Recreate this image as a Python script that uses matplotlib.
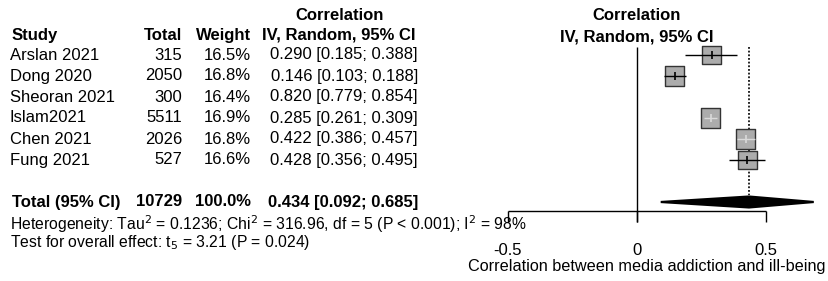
import matplotlib.pyplot as plt
import numpy as np
from matplotlib.transforms import blended_transform_factory

plt.rcParams['font.family'] = ['Liberation Sans', 'DejaVu Sans']

# data
studies = ['Arslan 2021', 'Dong 2020', 'Sheoran 2021', 'Islam2021', 'Chen 2021', 'Fung 2021']
totals = [315, 2050, 300, 5511, 2026, 527]
weights = [16.5, 16.8, 16.4, 16.9, 16.8, 16.6]
est = [0.290, 0.146, 0.820, 0.285, 0.422, 0.428]
lower = [0.185, 0.103, 0.779, 0.261, 0.386, 0.356]
upper = [0.388, 0.188, 0.854, 0.309, 0.457, 0.495]
total_n = 10729
pooled = 0.434
pooled_lo = 0.092
pooled_hi = 0.685
xticks = [-0.5, 0, 0.5]
xticklabels = ['-0.5', '0', '0.5']

W, H = 829, 281
fig = plt.figure(figsize=(W / 100, H / 100), dpi=100)
ax = fig.add_axes([0, 0, 1, 1])
ax.axis('off')

# x: correlation units, 0 at pixel 637, 0.5 per 129 px
x0, xs = 637, 258
ax.set_xlim(-x0 / xs, (W - x0) / xs)
# y: row units, first study at pixel 55, 21 px per row
y0, ys = 55, 21
ax.set_ylim((H - y0) / ys, -y0 / ys)

n = len(studies)
rows = np.arange(n)
total_row = n + 1.0
fs = 12
fs_small = 11.3

# boxes
box_s = [w / max(weights) * 190 for w in weights]
ax.scatter(est, rows, s=box_s, marker='s', facecolor='#acacac',
           edgecolor='#333333', linewidth=1.0, zorder=3, clip_on=True)
for i in range(n):
    box_w = np.sqrt(box_s[i]) * 100 / 72 / xs
    inside = (upper[i] - lower[i]) < box_w
    col = '#dadada' if inside else 'black'
    ax.hlines(rows[i], lower[i], upper[i], color=col, lw=1.0, zorder=4)
    ax.vlines(est[i], rows[i] - 0.17, rows[i] + 0.17, color=col, lw=1.2, zorder=4)

# pooled diamond
dh = 0.26
ax.fill([pooled_lo, pooled, pooled_hi, pooled],
        [total_row, total_row - dh, total_row, total_row + dh],
        facecolor='black', edgecolor='black', lw=1.6, zorder=3)

# reference lines
ax.vlines(0, -0.38, 7.95, color='black', lw=1.0)
ax.vlines(pooled, -0.4, 6.65, color='black', lw=1.2, linestyles=(0, (1.1, 1.1)))

# x axis
axis_y = 7.43
ax.hlines(axis_y, xticks[0], xticks[-1], color='black', lw=1.0)
ax.vlines(xticks, axis_y, 7.95, color='black', lw=1.0)
for t, lab in zip(xticks, xticklabels):
    ax.text(t, 9.33, lab, ha='center', va='center', fontsize=fs)
ax.text(10 / xs, 10.05, 'Correlation between media addiction and ill-being',
        ha='center', va='center', fontsize=11.7)

# table on the left
tr = blended_transform_factory(fig.transFigure, ax.transData)
def px(v):
    return v / W

ax.text(px(340), -1.9, 'Correlation', transform=tr, ha='center', va='center', fontsize=fs, weight='bold')
ax.text(px(12), -0.95, 'Study', transform=tr, ha='left', va='center', fontsize=fs, weight='bold')
ax.text(px(182), -0.95, 'Total', transform=tr, ha='right', va='center', fontsize=fs, weight='bold')
ax.text(px(251), -0.95, 'Weight', transform=tr, ha='right', va='center', fontsize=fs, weight='bold')
ax.text(px(262), -0.95, 'IV, Random, 95% CI', transform=tr, ha='left', va='center', fontsize=fs, weight='bold')

ax.text(0, -1.9, 'Correlation', ha='center', va='center', fontsize=fs, weight='bold')
ax.text(0, -0.85, 'IV, Random, 95% CI', ha='center', va='center', fontsize=fs, weight='bold')

for i in range(n):
    ax.text(px(10), rows[i], studies[i], transform=tr, ha='left', va='center', fontsize=fs)
    ax.text(px(182), rows[i], str(totals[i]), transform=tr, ha='right', va='center', fontsize=fs)
    ax.text(px(251), rows[i], f'{weights[i]:.1f}%', transform=tr, ha='right', va='center', fontsize=fs)
    ax.text(px(418), rows[i], f'{est[i]:.3f} [{lower[i]:.3f}; {upper[i]:.3f}]',
            transform=tr, ha='right', va='center', fontsize=fs)

ax.text(px(12), total_row, 'Total (95% CI)', transform=tr, ha='left', va='center', fontsize=fs, weight='bold')
ax.text(px(182), total_row, str(total_n), transform=tr, ha='right', va='center', fontsize=fs, weight='bold')
ax.text(px(251), total_row, f'{sum(weights):.1f}%', transform=tr, ha='right', va='center', fontsize=fs, weight='bold')
ax.text(px(418), total_row, f'{pooled:.3f} [{pooled_lo:.3f}; {pooled_hi:.3f}]',
        transform=tr, ha='right', va='center', fontsize=fs, weight='bold')

ax.text(px(10), 8.05, r'Heterogeneity: Tau$^2$ = 0.1236; Chi$^2$ = 316.96, df = 5 (P < 0.001); I$^2$ = 98%',
        transform=tr, ha='left', va='center', fontsize=fs_small)
ax.text(px(10), 8.95, r'Test for overall effect: t$_5$ = 3.21 (P = 0.024)',
        transform=tr, ha='left', va='center', fontsize=fs_small)

fig.savefig('out.png', dpi=100)
